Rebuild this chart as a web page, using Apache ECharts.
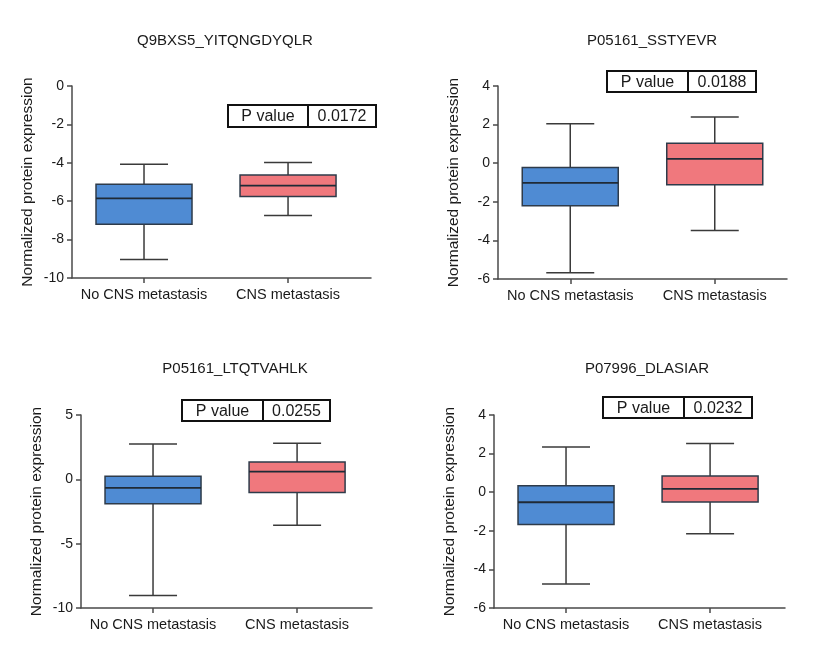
<!DOCTYPE html>
<html>
<head>
<meta charset="utf-8">
<script src="https://cdn.jsdelivr.net/npm/echarts@6/dist/echarts.min.js"></script>
<style>
html,body{margin:0;padding:0;background:#ffffff;}
#chart{width:829px;height:650px;}
</style>
</head>
<body>
<div id="chart"></div>
<script>
// ---------- data ----------
const categories = ['No CNS metastasis', 'CNS metastasis'];
const titles = ['Q9BXS5_YITQNGDYQLR', 'P05161_SSTYEVR', 'P05161_LTQTVAHLK', 'P07996_DLASIAR'];
const pValues = ['0.0172', '0.0188', '0.0255', '0.0232'];
// [min, Q1, median, Q3, max]
const panel1NoCNS = [-9.04, -7.20, -5.85, -5.12, -4.08];
const panel1CNS   = [-6.74, -5.76, -5.19, -4.64, -3.99];
const panel2NoCNS = [-5.67, -2.21, -1.02, -0.22, 2.04];
const panel2CNS   = [-3.49, -1.12, 0.22, 1.04, 2.39];
const panel3NoCNS = [-9.03, -1.89, -0.67, 0.24, 2.75];
const panel3CNS   = [-3.57, -1.03, 0.60, 1.35, 2.80];
const panel4NoCNS = [-4.76, -1.68, -0.52, 0.34, 2.34];
const panel4CNS   = [-2.15, -0.51, 0.17, 0.84, 2.52];
const yMin  = [-10, -6, -10, -6];
const yMax  = [0, 4, 5, 4];
const yStep = [2, 2, 5, 2];
const yName = 'Normalized protein expression';

// ---------- layout ----------
const panels = [
  {grid:{left:72, top:86, width:299, height:192}, xMax:2.576, title:[225,41], pbox:[228,105,148,22,80]},
  {grid:{left:498, top:86, width:289, height:193}, xMax:2.5, title:[652,41], pbox:[607,71,149,21,81]},
  {grid:{left:81, top:415, width:291, height:193}, xMax:2.52, title:[235,369], pbox:[182,400,148,21,81]},
  {grid:{left:494, top:415, width:291, height:193}, xMax:2.52, title:[647,369], pbox:[603,397,149,21,81]}
];
const boxData = [
  [panel1NoCNS, panel1CNS],
  [panel2NoCNS, panel2CNS],
  [panel3NoCNS, panel3CNS],
  [panel4NoCNS, panel4CNS]
];
const fillColors = ['#4f8bd3', '#f0787d'];
const BOX_W = 96, CAP_W = 48;
const FONT = '"Liberation Sans", Arial, sans-serif';
const TXT = '#1a1a1a';
const AX = '#4a4a4a';

function renderBox(params, api) {
  const x = api.value(0);
  const lo = api.coord([x, api.value(1)]);
  const q1 = api.coord([x, api.value(2)]);
  const md = api.coord([x, api.value(3)]);
  const q3 = api.coord([x, api.value(4)]);
  const hi = api.coord([x, api.value(5)]);
  const cx = hi[0];
  const h = BOX_W / 2, c = CAP_W / 2;
  const lineStyle = {stroke: '#3a3a3a', lineWidth: 1.5, fill: null};
  const fill = fillColors[params.dataIndex % 2];
  return {
    type: 'group',
    children: [
      {type: 'line', shape: {x1: cx, y1: hi[1], x2: cx, y2: q3[1]}, style: lineStyle},
      {type: 'line', shape: {x1: cx, y1: q1[1], x2: cx, y2: lo[1]}, style: lineStyle},
      {type: 'line', shape: {x1: cx - c, y1: hi[1], x2: cx + c, y2: hi[1]}, style: lineStyle},
      {type: 'line', shape: {x1: cx - c, y1: lo[1], x2: cx + c, y2: lo[1]}, style: lineStyle},
      {type: 'rect', shape: {x: cx - h, y: q3[1], width: BOX_W, height: q1[1] - q3[1]},
        style: {fill: fill, stroke: '#2e3b4a', lineWidth: 1.5}},
      {type: 'line', shape: {x1: cx - h, y1: md[1], x2: cx + h, y2: md[1]},
        style: {stroke: '#1f2a36', lineWidth: 1.8}}
    ]
  };
}

const grids = [], xAxes = [], yAxes = [], series = [], graphics = [];
panels.forEach((p, i) => {
  grids.push(Object.assign({containLabel: false}, p.grid));
  xAxes.push({
    type: 'value', gridIndex: i, min: 0.5, max: p.xMax,
    axisLine: {show: true, onZero: false, lineStyle: {color: AX, width: 1.5}},
    axisTick: {show: true, length: 5, customValues: [1, 2], lineStyle: {color: AX, width: 1.5}},
    axisLabel: {show: true, customValues: [1, 2], margin: 9, fontSize: 14.5, fontFamily: FONT, color: TXT,
      formatter: v => categories[Math.round(v) - 1] || ''},
    splitLine: {show: false}
  });
  yAxes.push({
    type: 'value', gridIndex: i, min: yMin[i], max: yMax[i], interval: yStep[i],
    name: yName, nameLocation: 'middle', nameRotate: 90, nameGap: 36,
    nameTextStyle: {fontSize: 15.5, fontFamily: FONT, color: TXT},
    axisLine: {show: true, onZero: false, lineStyle: {color: AX, width: 1.5}},
    axisTick: {show: true, length: 5, lineStyle: {color: AX, width: 1.5}},
    axisLabel: {margin: 8, fontSize: 14, fontFamily: FONT, color: TXT},
    splitLine: {show: false}
  });
  series.push({
    type: 'custom', xAxisIndex: i, yAxisIndex: i,
    renderItem: renderBox,
    encode: {x: 0, y: [1, 2, 3, 4, 5]},
    data: boxData[i].map((d, k) => [k + 1].concat(d)),
    silent: true
  });
  graphics.push({
    type: 'text', x: p.title[0], y: p.title[1],
    style: {text: titles[i], fontSize: 15, fontFamily: FONT, fill: TXT, align: 'center', verticalAlign: 'middle'}
  });
  const [bx, by, bw, bh, bd] = p.pbox;
  graphics.push({
    type: 'group', x: bx, y: by,
    children: [
      {type: 'rect', shape: {x: 0, y: 0, width: bw, height: bh}, style: {fill: '#ffffff', stroke: '#111', lineWidth: 2}},
      {type: 'line', shape: {x1: bd, y1: 0, x2: bd, y2: bh}, style: {stroke: '#111', lineWidth: 2}},
      {type: 'text', x: bd / 2, y: bh / 2 + 1, style: {text: 'P value', fontSize: 16, fontFamily: FONT, fill: TXT, align: 'center', verticalAlign: 'middle'}},
      {type: 'text', x: bd + (bw - bd) / 2, y: bh / 2 + 1, style: {text: pValues[i], fontSize: 16, fontFamily: FONT, fill: TXT, align: 'center', verticalAlign: 'middle'}}
    ]
  });
});

const chart = echarts.init(document.getElementById('chart'), null, {renderer: 'canvas'});
chart.setOption({
  backgroundColor: '#ffffff',
  animation: false,
  grid: grids,
  xAxis: xAxes,
  yAxis: yAxes,
  series: series,
  graphic: graphics
});
</script>
</body>
</html>
